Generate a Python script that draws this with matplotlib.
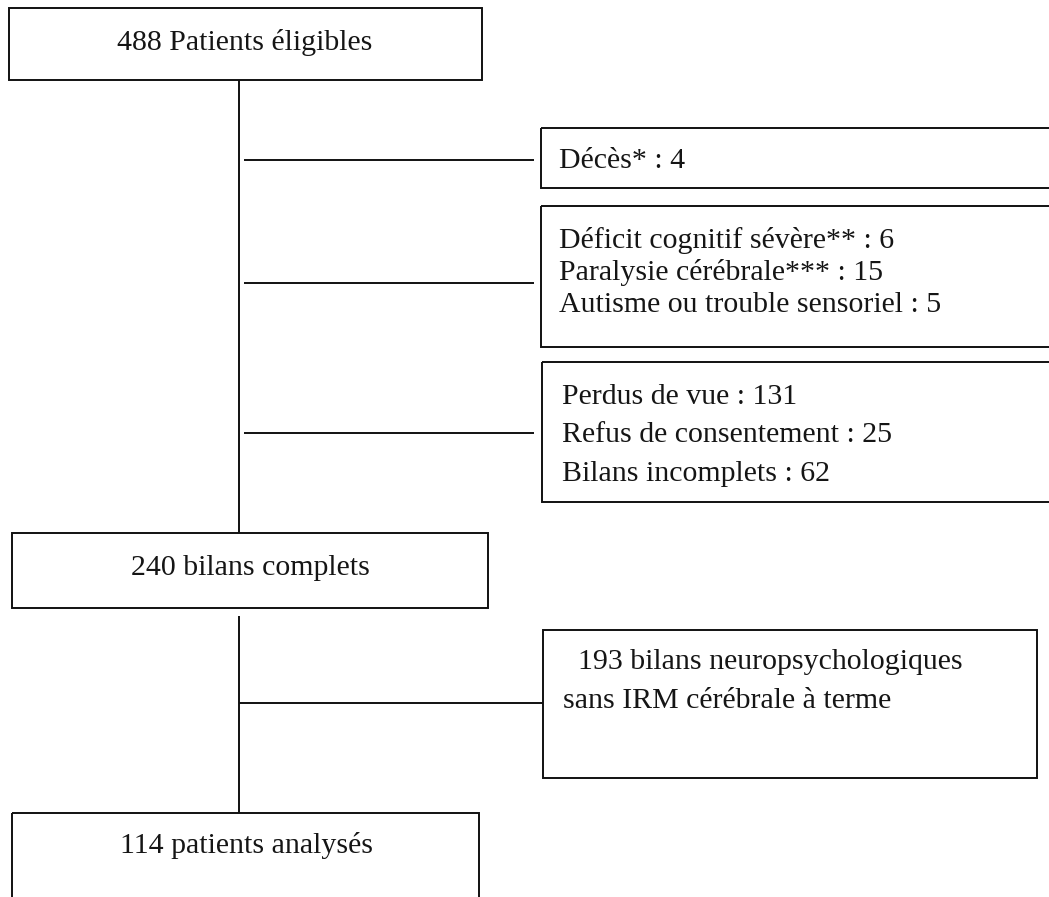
import matplotlib
matplotlib.use("Agg")
import matplotlib.pyplot as plt
from matplotlib.patches import Rectangle

plt.rcParams['font.family'] = ['Liberation Serif', 'DejaVu Serif']

# ---- data ----
eligible = 488
complete = 240
analysed = 114
deaths_label = ["Décès* : 4"]
excl_medical = ["Déficit cognitif sévère** : 6",
                "Paralysie cérébrale*** : 15",
                "Autisme ou trouble sensoriel : 5"]
excl_followup = ["Perdus de vue : 131",
                 "Refus de consentement : 25",
                 "Bilans incomplets : 62"]
no_mri = ["  193 bilans neuropsychologiques", "sans IRM cérébrale à terme"]
main_labels = [f"{eligible} Patients éligibles",
               f"{complete} bilans complets",
               f"{analysed} patients analysés"]

W, H = 1049, 897
fig = plt.figure(figsize=(W / 100, H / 100), dpi=100)
ax = fig.add_axes([0, 0, 1, 1])
ax.set_xlim(0, W)
ax.set_ylim(H, 0)
ax.axis('off')

lw = 1.4
FS = 21.5
TC = '#151515'


def box(x0, y0, x1, y1):
    ax.add_patch(Rectangle((x0, y0), x1 - x0, y1 - y0, fill=False,
                           edgecolor='#111111', linewidth=lw, clip_on=False))


def line(xs, ys):
    ax.plot(xs, ys, color='#111111', linewidth=lw, solid_capstyle='butt')


def txt(x, y, s, ha='left'):
    ax.text(x, y, s, ha=ha, va='baseline', fontsize=FS, color=TC)


# main boxes
box(9, 8, 482, 80)
txt(245, 50, main_labels[0], ha='center')
box(12, 533, 488, 608)
txt(250, 575, main_labels[1], ha='center')
box(12, 813, 479, 920)
txt(247, 853, main_labels[2], ha='center')

# vertical trunks
line([239, 239], [80, 533])
line([239, 239], [616, 813])

# side boxes (extend past right edge)
box(541, 128, 1060, 188)
line([244, 534], [160.5, 160.5])
txt(559, 168, deaths_label[0])

box(541, 206, 1060, 347)
line([244, 534], [283, 283])
for i, s in enumerate(excl_medical):
    txt(559, 248 + 32 * i, s)

box(542, 362, 1060, 502)
line([244, 534], [433, 433])
for i, s in enumerate(excl_followup):
    txt(562, 404 + 38.5 * i, s)

box(543, 630, 1037, 778)
line([239, 543], [703, 703])
txt(563, 669, no_mri[0])
txt(563, 708, no_mri[1])

fig.savefig("out.png", dpi=100, facecolor='white')
